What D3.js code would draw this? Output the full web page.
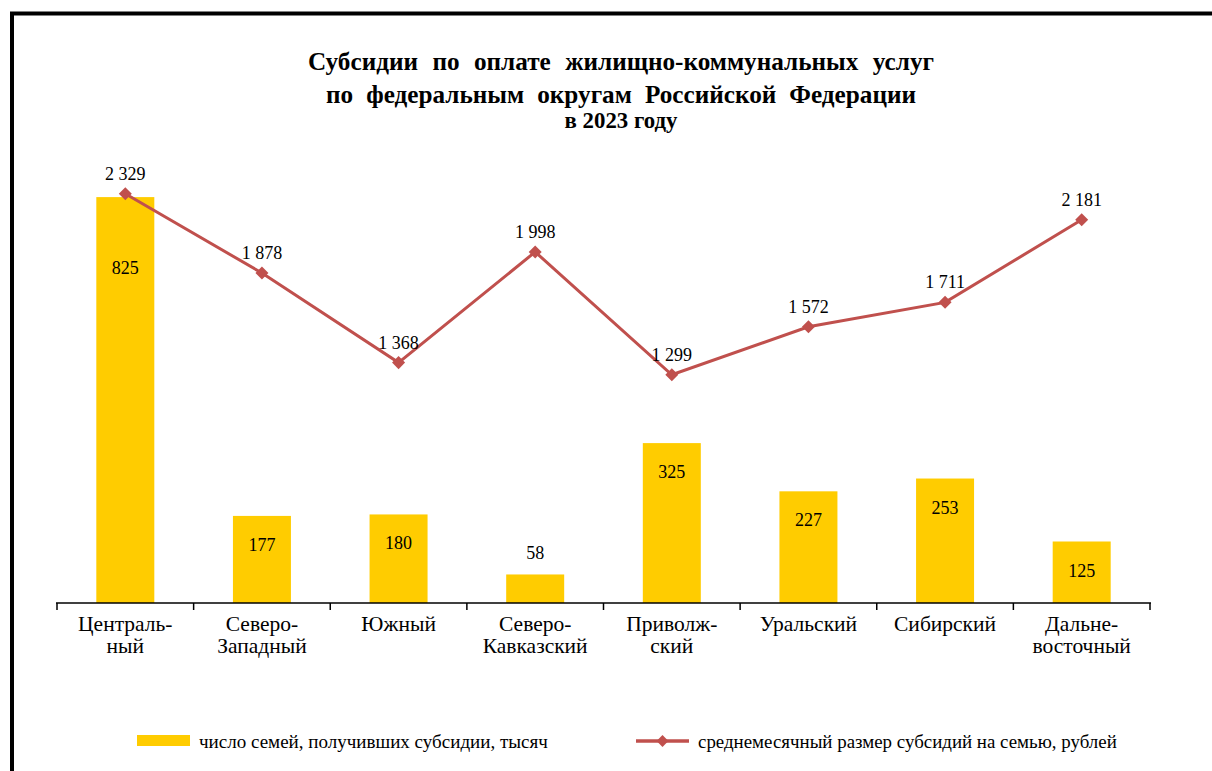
<!DOCTYPE html>
<html><head><meta charset="utf-8">
<script src="https://cdn.jsdelivr.net/npm/d3@7"></script>
<style>body{margin:0;background:#fff}svg{display:block}</style>
</head><body>
<svg id="c" width="1212" height="771" font-family="Liberation Serif"></svg>
<script>
const categories = [["Централь-","ный"],["Северо-","Западный"],["Южный"],["Северо-","Кавказский"],["Приволж-","ский"],["Уральский"],["Сибирский"],["Дальне-","восточный"]];
const families = [825,177,180,58,325,227,253,125];
const avgSubsidy = [2329,1878,1368,1998,1299,1572,1711,2181];
const seriesNames = ["число семей, получивших субсидии, тысяч","среднемесячный размер субсидий на семью, рублей"];
const titleLines = ["Субсидии по оплате жилищно-коммунальных услуг","по федеральным округам Российской Федерации"];
const subTitle = "в 2023 году";

(function(){
const FONT = "Liberation Serif";
const svg = d3.select("#c");
const fmt = v => d3.format(",")(v).replace(/,/g," ");
// fit helpers (layout only)
function fitSize(sel, target){ const n=sel.node(); const fs=+sel.attr("font-size"); const w=n.getComputedTextLength(); sel.attr("font-size", fs*target/w); }
function fitSpacing(sel, target){ const n=sel.node(); const w=n.getComputedTextLength(); const sp=(sel.text().match(/ /g)||[]).length; if(sp) sel.attr("word-spacing",Math.max(0,(target-w)/sp)); }

// frame
svg.append("rect").attr("x",12).attr("y",13.5).attr("width",1300).attr("height",900)
  .attr("fill","none").attr("stroke","#000").attr("stroke-width",4);

const pLeft=57,pRight=1150,pTop=111,pBottom=603;
const xOuter = d3.scaleBand().domain(d3.range(categories.length)).range([pLeft,pRight]);
const y1 = d3.scaleLinear().domain([0,1000]).range([pBottom,pTop]);
const y2 = d3.scaleLinear().domain([0,2800]).range([pBottom,pTop]);
const cx = i=>xOuter(i)+xOuter.bandwidth()/2;

const barCol="#FFCC00", lineCol="#C0504D";
// bars
svg.selectAll(".bar").data(families).join("rect").attr("class","bar")
  .attr("x",(d,i)=>cx(i)-29).attr("width",58)
  .attr("y",d=>y1(d)).attr("height",d=>pBottom-y1(d)).attr("fill",barCol);

// axis
const ax = svg.append("g").attr("transform",`translate(0,${pBottom})`);
ax.append("line").attr("x1",pLeft-1).attr("x2",pRight+1).attr("stroke","#000").attr("stroke-width",1.5);
ax.selectAll(".tk").data(d3.range(categories.length+1)).join("line")
  .attr("x1",i=>pLeft+i*xOuter.step()).attr("x2",i=>pLeft+i*xOuter.step()).attr("y1",0).attr("y2",7)
  .attr("stroke","#000").attr("stroke-width",1.5);
const probe = svg.append("text").attr("font-family",FONT).attr("font-size",20).text("Кавказский");
fitSize(probe,105); const catFs = +probe.attr("font-size"); probe.remove();
categories.forEach((c,i)=>{
  const t = ax.append("text").attr("text-anchor","middle").attr("font-size",catFs).attr("fill","#000").attr("font-family",FONT);
  c.forEach((s,k)=>t.append("tspan").attr("x",cx(i)).attr("y",28+k*22).text(s));
});

// bar labels
const barLabelOffset = d => d>=800 ? 77 : (d<100 ? -15 : 35);
svg.selectAll(".bl").data(families).join("text")
  .attr("x",(d,i)=>cx(i)).attr("y",d=>y1(d)+barLabelOffset(d)).attr("font-family",FONT)
  .attr("text-anchor","middle").attr("font-size",18).attr("fill","#000").text(d=>d);

// line
svg.append("path").datum(avgSubsidy).attr("fill","none").attr("stroke",lineCol).attr("stroke-width",3)
  .attr("d",d3.line().x((d,i)=>cx(i)).y(d=>y2(d)));
svg.selectAll(".mk").data(avgSubsidy).join("path")
  .attr("d",d3.symbol().type(d3.symbolSquare).size(85)).attr("transform",(d,i)=>`translate(${cx(i)},${y2(d)}) rotate(45)`)
  .attr("fill",lineCol);
svg.selectAll(".ll").data(avgSubsidy).join("text")
  .attr("x",(d,i)=>cx(i)).attr("y",d=>y2(d)-14).attr("font-family",FONT)
  .attr("text-anchor","middle").attr("font-size",18).attr("fill","#000").text(d=>fmt(d));

// title
const tp = svg.append("text").attr("font-family",FONT).attr("font-weight","bold").attr("font-size",23).text("Субсидии");
fitSize(tp,110); const titleFs = +tp.attr("font-size"); tp.remove();
const tw=[626,590];
titleLines.forEach((s,k)=>{
  const t=svg.append("text").attr("x",621).attr("y",70+k*33).attr("text-anchor","middle").attr("font-family",FONT)
  .attr("font-size",titleFs).attr("font-weight","bold").text(s);
  fitSpacing(t,tw[k]);
});
const st=svg.append("text").attr("x",621).attr("y",128).attr("text-anchor","middle").attr("font-family",FONT)
  .attr("font-size",17).attr("font-weight","bold").text(subTitle);
fitSize(st,113);

// legend
const lg = svg.append("g").attr("font-family",FONT);
lg.append("rect").attr("x",137).attr("y",735).attr("width",53).attr("height",11).attr("fill",barCol);
const l1=lg.append("text").attr("x",199).attr("y",748).attr("font-size",16).text(seriesNames[0]);
fitSize(l1,349);
lg.append("line").attr("x1",636).attr("x2",689).attr("y1",741).attr("y2",741).attr("stroke",lineCol).attr("stroke-width",3.5);
lg.append("path").attr("d",d3.symbol().type(d3.symbolSquare).size(70)).attr("transform","translate(662.5,741) rotate(45)").attr("fill",lineCol);
const l2=lg.append("text").attr("x",698).attr("y",748).attr("font-size",16).text(seriesNames[1]);
fitSize(l2,419);
})();
</script>
</body></html>
